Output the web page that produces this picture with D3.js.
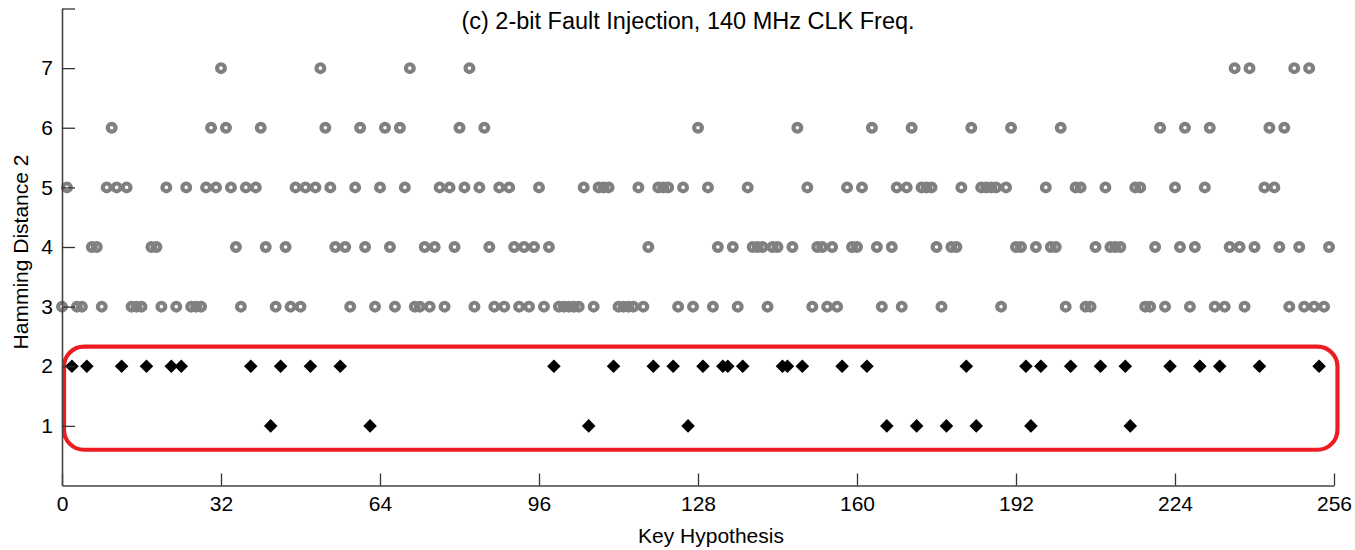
<!DOCTYPE html>
<html>
<head>
<meta charset="utf-8">
<script src="https://cdn.jsdelivr.net/npm/d3@7"></script>
<style>
  html, body { margin: 0; padding: 0; background: #fff; }
  svg text { font-family: "Liberation Sans", Arial, sans-serif; fill: #000; }
</style>
</head>
<body>
<svg id="chart" width="1355" height="550"></svg>
<script>
// Hamming distance observed for each key hypothesis 0..255
const hammingDistance = [
  3,5,2,3,3,2,4,4,3,5,  6,5,2,5,3,3,3,2,4,4,  3,5,2,3,2,5,3,3,3,5,
  6,5,7,6,5,4,3,5,2,5,  6,4,1,3,2,4,3,5,3,5,  2,5,7,6,5,4,2,4,3,5,
  6,4,1,3,5,6,4,3,6,5,  7,3,3,4,3,4,5,3,5,4,  6,5,7,3,5,6,4,3,5,3,
  5,4,3,4,3,4,5,3,4,2,  3,3,3,3,3,5,1,3,5,5,  5,2,3,3,3,3,5,3,4,2,
  5,5,5,2,3,5,1,3,6,2,  5,3,4,2,2,4,3,2,5,4,  4,4,3,4,4,2,2,4,6,2,
  5,3,4,4,3,4,3,2,5,4,  4,5,2,6,4,3,1,4,5,3,  5,6,1,5,5,5,4,3,1,4,
  4,5,2,6,1,5,5,5,5,3,  5,6,4,4,2,1,4,2,5,4,  4,6,3,2,5,5,3,3,4,2,
  5,4,4,4,2,1,5,5,3,3,  4,6,3,2,5,4,6,3,4,2,  5,6,3,2,3,4,7,4,3,7,
  4,2,5,6,5,4,6,3,7,4,  3,7,3,2,3,4
];
const xTicks = [0, 32, 64, 96, 128, 160, 192, 224, 256];
const yTicks = [1, 2, 3, 4, 5, 6, 7, 8];
const yTickLabels = ["1", "2", "3", "4", "5", "6", "7", ""];
const highlightMax = 2;   // distances at or below this are the candidate keys

const titleText = "(c) 2-bit Fault Injection, 140 MHz CLK Freq.";
const xLabel = "Key Hypothesis";
const yLabel = "Hamming Distance 2";

const points = hammingDistance.map((d, i) => ({ key: i, hd: d }));

const svg = d3.select("#chart");
const x = d3.scaleLinear().domain([0, 256]).range([62, 1334]);
const y = d3.scaleLinear().domain([0, 8]).range([485.5, 8.5]);

// highlight box around the low-distance keys (data units)
const box = { x0: 0.5, x1: 256.8, y0: 0.6, y1: 2.33 };
svg.append("rect")
  .attr("x", x(box.x0) - 0.5)
  .attr("y", y(box.y1))
  .attr("width", x(box.x1) - x(box.x0))
  .attr("height", y(box.y0) - y(box.y1))
  .attr("rx", 20).attr("ry", 20)
  .attr("fill", "none")
  .attr("stroke", "#ed1c24")
  .attr("stroke-width", 4.2);

// keys with large distance: gray open rings
svg.append("g").selectAll("circle")
  .data(points.filter(p => p.hd > highlightMax))
  .join("circle")
  .attr("cx", d => x(d.key))
  .attr("cy", d => y(d.hd))
  .attr("r", 3.9)
  .attr("fill", "none")
  .attr("stroke", "#808080")
  .attr("stroke-width", 4.2);

// candidate keys: black diamonds
const diamond = d3.symbol().type(d3.symbolSquare).size(92);
svg.append("g").selectAll("path")
  .data(points.filter(p => p.hd <= highlightMax))
  .join("path")
  .attr("d", diamond)
  .attr("transform", d => `translate(${x(d.key)},${y(d.hd)}) rotate(45)`)
  .attr("fill", "#000");

// axes with inward ticks
const xAxis = svg.append("g")
  .attr("transform", `translate(0,${y(0)})`)
  .call(d3.axisBottom(x).tickValues(xTicks).tickSizeInner(-12).tickSizeOuter(0).tickPadding(11));
const yAxis = svg.append("g")
  .attr("transform", `translate(${x(0)},0)`)
  .call(d3.axisLeft(y).tickValues(yTicks).tickFormat((d, i) => yTickLabels[i])
        .tickSizeInner(-13).tickSizeOuter(0).tickPadding(22));

[xAxis, yAxis].forEach(g => {
  g.select(".domain").attr("stroke", "#444").attr("stroke-width", 1.6);
  g.selectAll(".tick line").attr("stroke", "#333").attr("stroke-width", 1.3);
  g.selectAll(".tick text")
    .style("font-family", "'Liberation Sans', Arial, sans-serif")
    .style("font-size", "21px").attr("fill", "#000");
});
xAxis.selectAll(".tick text").attr("dy", "0.71em");
yAxis.selectAll(".tick text").attr("x", -9);

svg.append("text")
  .attr("x", 688).attr("y", 29)
  .attr("text-anchor", "middle")
  .style("font-size", "23.5px")
  .text(titleText);

svg.append("text")
  .attr("x", 711).attr("y", 543)
  .attr("text-anchor", "middle")
  .style("font-size", "21px")
  .text(xLabel);

svg.append("text")
  .attr("transform", "translate(28,252) rotate(-90)")
  .attr("text-anchor", "middle")
  .style("font-size", "21px")
  .text(yLabel);
</script>
</body>
</html>
